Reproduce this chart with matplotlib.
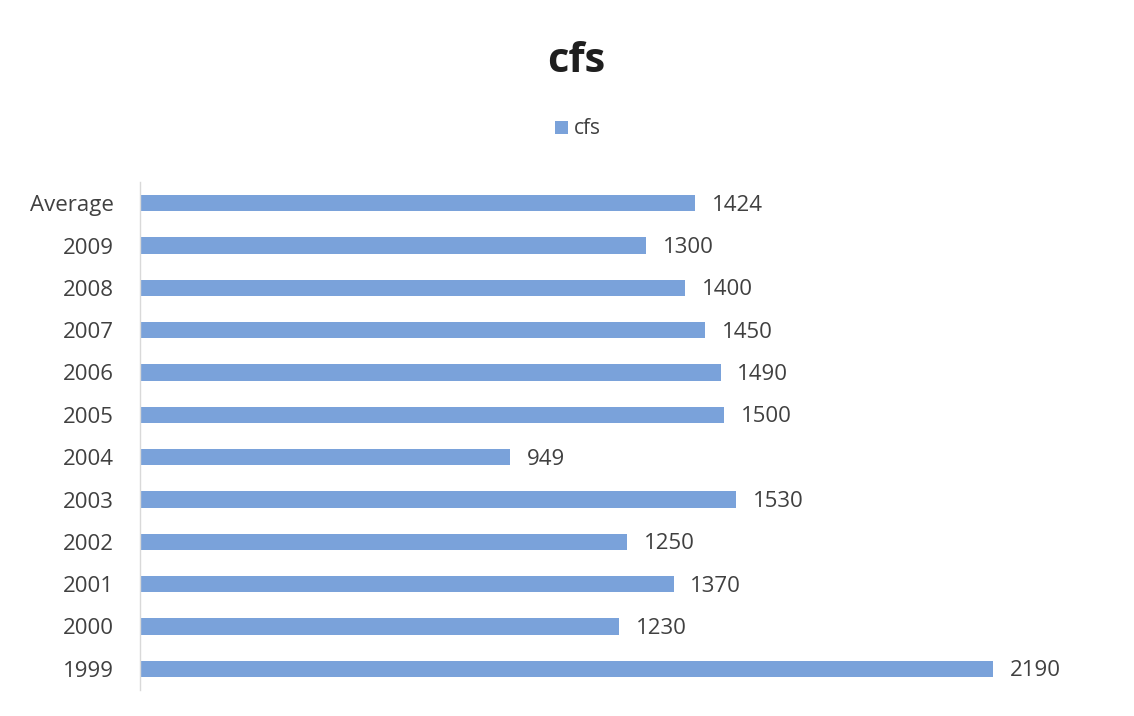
import matplotlib
matplotlib.use("Agg")
import matplotlib.pyplot as plt

categories = ["1999", "2000", "2001", "2002", "2003", "2004", "2005", "2006", "2007", "2008", "2009", "Average"]
values = [2190, 1230, 1370, 1250, 1530, 949, 1500, 1490, 1450, 1400, 1300, 1424]
series_name = "cfs"

plt.rcParams['font.family'] = ['Open Sans', 'DejaVu Sans']

fig = plt.figure(figsize=(11.34, 7.16), dpi=100)
ax = fig.add_axes([140/1134, 26/716, 974/1134, 508/716])

bar_color = "#7aa2da"
ypos = list(range(len(categories)))
bars = ax.barh(ypos, values, height=0.38, color=bar_color, label=series_name)

ax.set_xlim(0, 2500)
ax.set_ylim(-0.5, len(categories) - 0.5)
ax.set_yticks(ypos)
ax.set_yticklabels(categories, fontsize=16, color="#404040")
ax.tick_params(axis='y', length=0, pad=19)
ax.set_xticks([])

for s in ["top", "right", "bottom"]:
    ax.spines[s].set_visible(False)
ax.spines["left"].set_color("#d9d9d9")
ax.spines["left"].set_linewidth(1)

for y, v in zip(ypos, values):
    ax.annotate(f"{v}", xy=(v, y), xytext=(12, -1.5), textcoords="offset points",
                va="center", ha="left", fontsize=16, color="#404040")

fig.text(576/1134, 1 - 62/716, "cfs", ha="center", va="center", fontsize=30,
         fontweight="bold", color="#1f1f1f")
fig.legend(handles=[bars], labels=[series_name], loc="center",
           bbox_to_anchor=(578/1134, 1 - 129/716), frameon=False, fontsize=15,
           handlelength=0.6, handleheight=0.6, handletextpad=0.3,
           labelcolor="#404040")

fig.savefig("out.png", dpi=100, facecolor="white")
